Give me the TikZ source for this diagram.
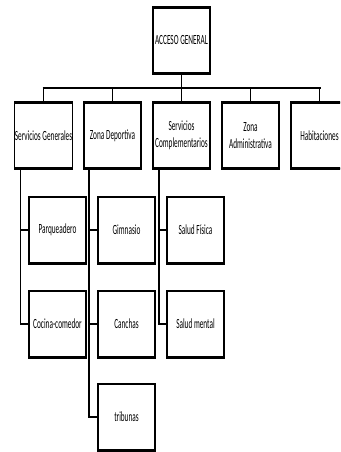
\documentclass[tikz,border=0pt]{standalone}
\usepackage{fontspec}
\setmainfont{Carlito}[FakeStretch=0.52]
\begin{document}
\begin{tikzpicture}[x=1pt,y=-1pt,
  orgbox/.style={draw, line width=1.2pt, minimum width=57pt, minimum height=66pt,
    inner sep=0pt, outer sep=0pt, align=center, fill=white,
    font=\fontsize{14pt}{17pt}\selectfont},
  vline/.style={line width=1.2pt},
  hline/.style={line width=2.2pt},
  busline/.style={line width=2.6pt}]
\clip (0,0) rectangle (340,452);
\fill[white] (0,0) rectangle (340,452);
% top
\node[orgbox] (acc) at (181.5,40.5) {ACCESO GENERAL};
% level 2
\node[orgbox] (sg) at (43.5,135.5) {Servicios Generales};
\node[orgbox] (zd) at (112.5,135.5) {Zona Deportiva};
\node[orgbox] (sc) at (181.5,135.5) {Servicios\\Complementarios};
\node[orgbox] (za) at (250.5,135.5) {Zona\\Administrativa};
\node[orgbox] (hab) at (319.5,135.5) {Habitaciones};
% level 3
\node[orgbox] (par) at (57.5,230) {Parqueadero};
\node[orgbox] (coc) at (57.5,324) {Cocina-comedor};
\node[orgbox] (gim) at (126.5,230) {Gimnasio};
\node[orgbox] (can) at (126.5,324) {Canchas};
\node[orgbox] (tri) at (126.5,417) {tribunas};
\node[orgbox] (sf) at (195.5,230) {Salud Física};
\node[orgbox] (sm) at (195.5,324) {Salud mental};
% thick top / bottom edges
\foreach \n in {acc,sg,zd,sc,za,hab,par,coc,gim,can,tri,sf,sm}{
  \draw[line width=2.2pt] ([xshift=-0.6pt]\n.north west) -- ([xshift=0.6pt]\n.north east);
  \draw[line width=3pt] ([xshift=-0.6pt]\n.south west) -- ([xshift=0.6pt]\n.south east);
}
% bus
\coordinate (busL) at (43.5,88);
\coordinate (busR) at (319.5,88);
\draw[busline] ([xshift=-1pt]busL) -- ([xshift=1pt]busR);
\draw[vline] (acc.south) -- (acc.south |- busL);
\foreach \n in {sg,zd,sc,za,hab}{
  \draw[vline] (\n.north) -- (\n.north |- busL);
}
% column 1
\coordinate (v1) at ([xshift=6pt]sg.south west);
\draw[vline] (v1) -- ([yshift=-1.1pt]v1 |- coc.west);
\draw[hline] ([xshift=-0.6pt]v1 |- par.west) -- (par.west);
\draw[hline] ([xshift=-0.6pt]v1 |- coc.west) -- (coc.west);
% column 2
\coordinate (v2) at ([xshift=5pt]zd.south west);
\draw[vline] (v2) -- ([yshift=-1.1pt]v2 |- tri.west);
\draw[hline] ([xshift=-0.6pt]v2 |- gim.west) -- (gim.west);
\draw[hline] ([xshift=-0.6pt]v2 |- can.west) -- (can.west);
\draw[hline] ([xshift=-0.6pt]v2 |- tri.west) -- (tri.west);
% column 3
\coordinate (v3) at ([xshift=6pt]sc.south west);
\draw[vline] (v3) -- ([yshift=-1.1pt]v3 |- sm.west);
\draw[hline] ([xshift=-0.6pt]v3 |- sf.west) -- (sf.west);
\draw[hline] ([xshift=-0.6pt]v3 |- sm.west) -- (sm.west);
\end{tikzpicture}
\end{document}
